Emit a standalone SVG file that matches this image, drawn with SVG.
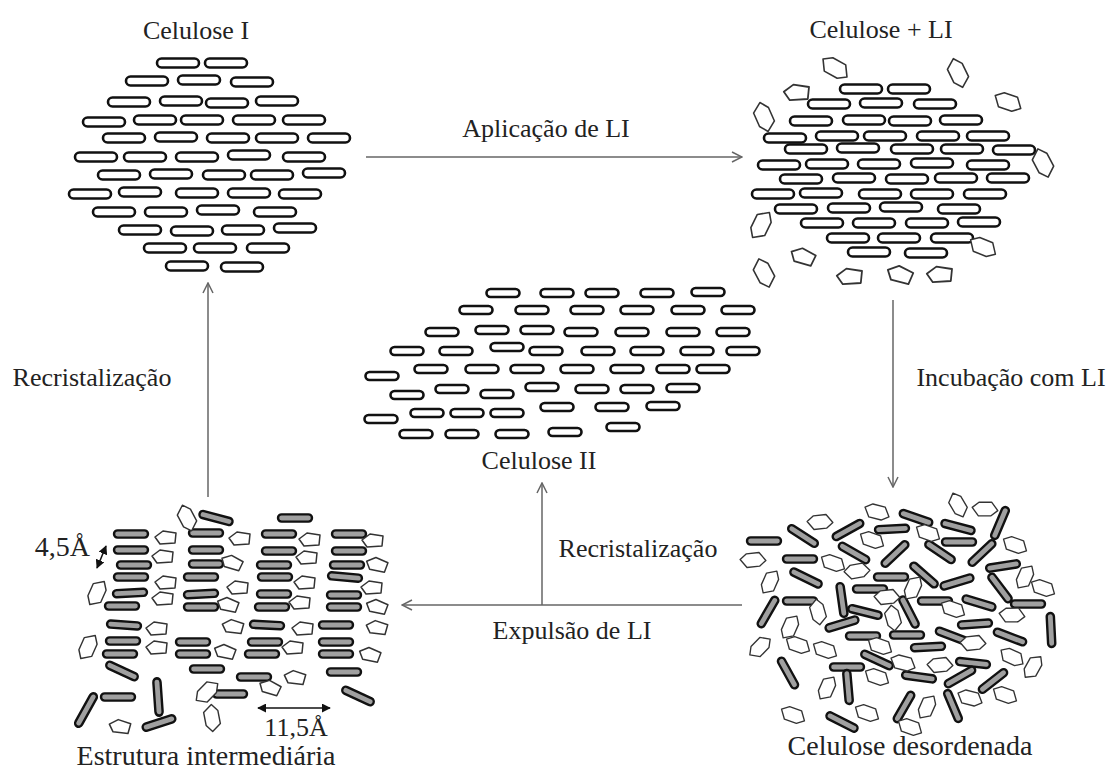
<svg xmlns="http://www.w3.org/2000/svg" width="1109" height="769" viewBox="0 0 1109 769">
<style>
  .r { fill: #fff; stroke: #111; stroke-width: 2.6; }
  .d { fill: #a0a0a0; stroke: #111; stroke-width: 2.4; }
  .p { fill: #fff; stroke: #333; stroke-width: 1.5; stroke-linejoin: round; }
  .lbl { font-family: "Liberation Serif", "Times New Roman", serif; font-size: 26px; fill: #222; text-anchor: middle; }
  .big { font-size: 28px; }
  .arr { stroke: #666; stroke-width: 1.5; fill: none; }
  .dim { stroke: #111; stroke-width: 1.5; fill: none; }
</style>
<defs>
  <!-- cellulose chain rods -->
  <rect id="rA" x="-21" y="-4.5" width="42" height="9" rx="4.5"/>
  <rect id="rB" x="-16.5" y="-4" width="33" height="8" rx="4"/>
  <rect id="rC" x="-17" y="-3.6" width="34" height="7.2" rx="3.6"/>
  <!-- ionic liquid ions -->
  <polygon id="pent" points="-11,-1 -3,-7 10,-5 9,5 -6,6"/>
  <polygon id="hex" points="-14,-3 -6,-8 8,-7 14,3 6,8 -8,7"/>
  <marker id="ah" viewBox="0 0 12 12" refX="11" refY="6" markerWidth="12" markerHeight="12" markerUnits="userSpaceOnUse" orient="auto">
    <path d="M1,1 L11,6 L1,11" fill="none" stroke="#666" stroke-width="1.5"/>
  </marker>
  <marker id="fa" viewBox="0 0 10 10" refX="9" refY="5" markerWidth="9" markerHeight="9" markerUnits="userSpaceOnUse" orient="auto-start-reverse">
    <path d="M0,0 L10,5 L0,10 z" fill="#111"/>
  </marker>
</defs>

<!-- Celulose I: ordered lattice -->
<g id="celulose-i" class="r">
  <use href="#rA" x="178" y="63"/><use href="#rA" x="226" y="63"/>
  <use href="#rA" x="147" y="81"/><use href="#rA" x="199" y="80"/><use href="#rA" x="252" y="82"/>
  <use href="#rA" x="129" y="102"/><use href="#rA" x="181" y="101"/><use href="#rA" x="227" y="103"/><use href="#rA" x="277" y="101"/>
  <use href="#rA" x="104" y="122"/><use href="#rA" x="155" y="120"/><use href="#rA" x="202" y="120"/><use href="#rA" x="254" y="120"/><use href="#rA" x="304" y="120"/>
  <use href="#rA" x="124" y="138"/><use href="#rA" x="176" y="137"/><use href="#rA" x="228" y="138"/><use href="#rA" x="277" y="138"/><use href="#rA" x="329" y="138"/>
  <use href="#rA" x="96" y="157"/><use href="#rA" x="145" y="157"/><use href="#rA" x="197" y="157"/><use href="#rA" x="249" y="155"/><use href="#rA" x="304" y="157"/>
  <use href="#rA" x="119" y="175"/><use href="#rA" x="171" y="174"/><use href="#rA" x="224" y="175"/><use href="#rA" x="272" y="175"/><use href="#rA" x="324" y="173"/>
  <use href="#rA" x="90" y="194"/><use href="#rA" x="140" y="192"/><use href="#rA" x="197" y="193"/><use href="#rA" x="249" y="193"/><use href="#rA" x="300" y="194"/>
  <use href="#rA" x="114" y="212"/><use href="#rA" x="166" y="212"/><use href="#rA" x="218" y="210"/><use href="#rA" x="275" y="212"/>
  <use href="#rA" x="140" y="230"/><use href="#rA" x="192" y="231"/><use href="#rA" x="243" y="230"/><use href="#rA" x="295" y="228"/>
  <use href="#rA" x="165" y="248"/><use href="#rA" x="215" y="248"/><use href="#rA" x="268" y="248"/>
  <use href="#rA" x="187" y="266"/><use href="#rA" x="242" y="267"/>
</g>

<!-- Celulose + LI: lattice with ions around it -->
<g id="celulose-li">
  <g class="r">
    <use href="#rA" x="861" y="89"/><use href="#rA" x="909" y="89"/>
    <use href="#rA" x="829" y="104"/><use href="#rA" x="881" y="103"/><use href="#rA" x="935" y="104"/>
    <use href="#rA" x="811" y="121"/><use href="#rA" x="864" y="120"/><use href="#rA" x="910" y="121"/><use href="#rA" x="961" y="120"/>
    <use href="#rA" x="785" y="138"/><use href="#rA" x="837" y="136"/><use href="#rA" x="885" y="136"/><use href="#rA" x="938" y="136"/><use href="#rA" x="988" y="136"/>
    <use href="#rA" x="806" y="149"/><use href="#rA" x="858" y="148"/><use href="#rA" x="912" y="149"/><use href="#rA" x="962" y="149"/><use href="#rA" x="1014" y="150"/>
    <use href="#rA" x="779" y="165"/><use href="#rA" x="827" y="164"/><use href="#rA" x="879" y="164"/><use href="#rA" x="932" y="163"/><use href="#rA" x="988" y="165"/>
    <use href="#rA" x="801" y="179"/><use href="#rA" x="854" y="178"/><use href="#rA" x="907" y="179"/><use href="#rA" x="956" y="178"/><use href="#rA" x="1008" y="178"/>
    <use href="#rA" x="773" y="194"/><use href="#rA" x="821" y="193"/><use href="#rA" x="880" y="194"/><use href="#rA" x="932" y="194"/><use href="#rA" x="985" y="194"/>
    <use href="#rA" x="796" y="209"/><use href="#rA" x="849" y="208"/><use href="#rA" x="901" y="207"/><use href="#rA" x="959" y="209"/>
    <use href="#rA" x="822" y="223"/><use href="#rA" x="874" y="223"/><use href="#rA" x="927" y="223"/><use href="#rA" x="979" y="222"/>
    <use href="#rA" x="848" y="238"/><use href="#rA" x="899" y="238"/><use href="#rA" x="952" y="238"/>
    <use href="#rA" x="869" y="252"/><use href="#rA" x="926" y="253"/>
  </g>
  <g class="p">
    <use href="#hex" transform="translate(835,68) rotate(25) scale(1.05)"/>
    <use href="#hex" transform="translate(958,73) rotate(60) scale(1.05)"/>
    <use href="#pent" transform="translate(797,93) scale(1.2)"/>
    <use href="#hex" transform="translate(1008,102) rotate(15)"/>
    <use href="#hex" transform="translate(764,117) rotate(62) scale(1.05)"/>
    <use href="#hex" transform="translate(1043,163) rotate(58) scale(1.05)"/>
    <use href="#hex" transform="translate(761,225) rotate(-68) scale(1.05)"/>
    <use href="#pent" transform="translate(803,257) rotate(20) scale(1.15)"/>
    <use href="#hex" transform="translate(983,247) rotate(18)"/>
    <use href="#hex" transform="translate(764,273) rotate(58) scale(1.05)"/>
    <use href="#pent" transform="translate(850,277) scale(1.2)"/>
    <use href="#pent" transform="translate(900,275) rotate(18) scale(1.2)"/>
    <use href="#pent" transform="translate(940,275) scale(1.2)"/>
  </g>
</g>

<!-- Celulose II: regenerated sheared lattice -->
<g id="celulose-ii" class="r">
  <use href="#rB" x="503" y="293"/><use href="#rB" x="557" y="293"/><use href="#rB" x="602" y="293"/><use href="#rB" x="657" y="293"/><use href="#rB" x="708" y="292"/>
  <use href="#rB" x="476" y="310"/><use href="#rB" x="532" y="310"/><use href="#rB" x="587" y="310"/><use href="#rB" x="637" y="310"/><use href="#rB" x="688" y="310"/><use href="#rB" x="738" y="310"/>
  <use href="#rB" x="442" y="332"/><use href="#rB" x="492" y="330"/><use href="#rB" x="537" y="330"/><use href="#rB" x="581" y="332"/><use href="#rB" x="632" y="332"/><use href="#rB" x="683" y="332"/><use href="#rB" x="733" y="332"/>
  <use href="#rB" x="407" y="351"/><use href="#rB" x="456" y="351"/><use href="#rB" x="507" y="347"/><use href="#rB" x="546" y="351"/><use href="#rB" x="598" y="351"/><use href="#rB" x="647" y="351"/><use href="#rB" x="697" y="351"/><use href="#rB" x="743" y="351"/>
  <use href="#rB" x="382" y="376"/><use href="#rB" x="431" y="369"/><use href="#rB" x="482" y="369"/><use href="#rB" x="527" y="369"/><use href="#rB" x="577" y="369"/><use href="#rB" x="627" y="369"/><use href="#rB" x="673" y="369"/><use href="#rB" x="713" y="369"/>
  <use href="#rB" x="407" y="395"/><use href="#rB" x="452" y="389"/><use href="#rB" x="497" y="394"/><use href="#rB" x="542" y="387"/><use href="#rB" x="592" y="389"/><use href="#rB" x="637" y="389"/><use href="#rB" x="683" y="388"/>
  <use href="#rB" x="381" y="419"/><use href="#rB" x="427" y="413"/><use href="#rB" x="467" y="413"/><use href="#rB" x="507" y="413"/><use href="#rB" x="557" y="407"/><use href="#rB" x="612" y="407"/><use href="#rB" x="663" y="406"/>
  <use href="#rB" x="416" y="434"/><use href="#rB" x="462" y="434"/><use href="#rB" x="512" y="434"/><use href="#rB" x="565" y="432"/><use href="#rB" x="623" y="427"/>
</g>

<!-- Estrutura intermediaria: sheets with ions between them -->
<g id="estrutura">
  <g class="d">
    <use href="#rC" transform="translate(131,534)"/><use href="#rC" transform="translate(131,550)"/><use href="#rC" transform="translate(134,565)"/><use href="#rC" transform="translate(131,577)"/>
    <use href="#rC" transform="translate(130,593) rotate(-3)"/><use href="#rC" transform="translate(122,606)"/><use href="#rC" transform="translate(124,625) rotate(4)"/><use href="#rC" transform="translate(123,641)"/>
    <use href="#rC" transform="translate(120,654)"/><use href="#rC" transform="translate(122,671) rotate(25)"/><use href="#rC" transform="translate(118,697)"/>
    <use href="#rC" transform="translate(86,710) rotate(-61) scale(1.1,1)"/><use href="#rC" transform="translate(158,697) rotate(86) scale(1.1,1)"/>
    <use href="#rC" transform="translate(159,723) rotate(-18)"/><use href="#rC" transform="translate(216,518) rotate(15)"/><use href="#rC" transform="translate(295,518)"/>
    <use href="#rC" transform="translate(206,533)"/><use href="#rC" transform="translate(206,550)"/><use href="#rC" transform="translate(206,564)"/><use href="#rC" transform="translate(201,577)"/>
    <use href="#rC" transform="translate(201,594) rotate(-3)"/><use href="#rC" transform="translate(201,607)"/><use href="#rC" transform="translate(193,642)"/><use href="#rC" transform="translate(193,654)"/>
    <use href="#rC" transform="translate(207,669)"/><use href="#rC" transform="translate(230,694)"/>
    <use href="#rC" transform="translate(279,534)"/><use href="#rC" transform="translate(279,551)"/><use href="#rC" transform="translate(274,565)"/><use href="#rC" transform="translate(275,577)"/>
    <use href="#rC" transform="translate(274,594)"/><use href="#rC" transform="translate(272,607)"/><use href="#rC" transform="translate(267,625) rotate(3)"/><use href="#rC" transform="translate(265,642)"/>
    <use href="#rC" transform="translate(262,654)"/><use href="#rC" transform="translate(254,677)"/>
    <use href="#rC" transform="translate(349,534)"/><use href="#rC" transform="translate(349,551)"/><use href="#rC" transform="translate(347,565)"/><use href="#rC" transform="translate(345,577) rotate(5)"/>
    <use href="#rC" transform="translate(344,595)"/><use href="#rC" transform="translate(344,607)"/><use href="#rC" transform="translate(336,625)"/><use href="#rC" transform="translate(336,642)"/>
    <use href="#rC" transform="translate(336,654)"/><use href="#rC" transform="translate(344,672)"/><use href="#rC" transform="translate(358,696) rotate(25)"/>
  </g>
  <g class="p">
    <use href="#pent" transform="translate(166,538)"/><use href="#pent" transform="translate(163,557)"/><use href="#pent" transform="translate(166,583)"/>
    <use href="#pent" transform="translate(163,599)"/><use href="#pent" transform="translate(157,629)"/><use href="#pent" transform="translate(157,648)"/>
    <use href="#pent" transform="translate(240,539)"/><use href="#pent" transform="translate(232,563) rotate(20)"/><use href="#pent" transform="translate(238,588)"/>
    <use href="#pent" transform="translate(228,605) rotate(15)"/><use href="#pent" transform="translate(233,627) rotate(10)"/><use href="#pent" transform="translate(225,652) rotate(15)"/>
    <use href="#pent" transform="translate(310,540)"/><use href="#pent" transform="translate(307,558)"/><use href="#pent" transform="translate(305,583)"/>
    <use href="#pent" transform="translate(300,603)"/><use href="#pent" transform="translate(303,629)"/><use href="#pent" transform="translate(293,648)"/>
    <use href="#pent" transform="translate(295,678) rotate(10)"/><use href="#pent" transform="translate(270,688) rotate(20)"/>
    <use href="#pent" transform="translate(373,541)"/><use href="#pent" transform="translate(377,565) rotate(15)"/><use href="#pent" transform="translate(372,588)"/>
    <use href="#pent" transform="translate(377,607) rotate(15)"/><use href="#pent" transform="translate(377,628) rotate(10)"/><use href="#pent" transform="translate(370,655) rotate(15)"/>
    <use href="#hex" transform="translate(187,518) rotate(58) scale(0.95)"/>
    <use href="#hex" transform="translate(97,593) rotate(-70) scale(0.95)"/>
    <use href="#hex" transform="translate(88,647) rotate(-70) scale(0.95)"/>
    <use href="#pent" transform="translate(120,727) rotate(10)"/>
    <use href="#hex" transform="translate(207,692) rotate(-50) scale(0.95)"/>
    <use href="#hex" transform="translate(212,718) rotate(75) scale(0.95)"/>
  </g>
  <!-- spacing marks -->
  <line class="dim" x1="106" y1="546" x2="97" y2="568" marker-start="url(#fa)" marker-end="url(#fa)"/>
  <line class="dim" x1="258" y1="708" x2="330" y2="708" marker-start="url(#fa)" marker-end="url(#fa)"/>
</g>

<!-- Celulose desordenada: random rods and ions -->
<g id="desordenada">
  <g class="d">
    <use href="#rC" transform="translate(764,541)"/>
    <use href="#rC" transform="translate(803,536) rotate(33)"/>
    <use href="#rC" transform="translate(848,530) rotate(-29)"/>
    <use href="#rC" transform="translate(892,529) rotate(-3)"/>
    <use href="#rC" transform="translate(916,518) rotate(19)"/>
    <use href="#rC" transform="translate(958,527) rotate(15)"/>
    <use href="#rC" transform="translate(1000,523) rotate(-67)"/>
    <use href="#rC" transform="translate(959,542)"/>
    <use href="#rC" transform="translate(982,553) rotate(-43)"/>
    <use href="#rC" transform="translate(854,553) rotate(30)"/>
    <use href="#rC" transform="translate(800,559)"/>
    <use href="#rC" transform="translate(895,554) rotate(-43)"/>
    <use href="#rC" transform="translate(940,552) rotate(34)"/>
    <use href="#rC" transform="translate(806,578) rotate(26)"/>
    <use href="#rC" transform="translate(891,577)"/>
    <use href="#rC" transform="translate(924,575) rotate(41)"/>
    <use href="#rC" transform="translate(957,582) rotate(-17)"/>
    <use href="#rC" transform="translate(1003,566) rotate(-9)"/>
    <use href="#rC" transform="translate(1000,588) rotate(53)"/>
    <use href="#rC" transform="translate(842,600) rotate(82)"/>
    <use href="#rC" transform="translate(870,589)"/>
    <use href="#rC" transform="translate(768,612) rotate(-60)"/>
    <use href="#rC" transform="translate(800,601)"/>
    <use href="#rC" transform="translate(909,612) rotate(63)"/>
    <use href="#rC" transform="translate(935,601)"/>
    <use href="#rC" transform="translate(979,603) rotate(17)"/>
    <use href="#rC" transform="translate(1028,604)"/>
    <use href="#rC" transform="translate(865,612) rotate(14)"/>
    <use href="#rC" transform="translate(842,624) rotate(-17)"/>
    <use href="#rC" transform="translate(975,624) rotate(-4)"/>
    <use href="#rC" transform="translate(1051,630) rotate(87)"/>
    <use href="#rC" transform="translate(863,636)"/>
    <use href="#rC" transform="translate(907,635)"/>
    <use href="#rC" transform="translate(952,636) rotate(21)"/>
    <use href="#rC" transform="translate(1010,637) rotate(21)"/>
    <use href="#rC" transform="translate(928,647) rotate(-3)"/>
    <use href="#rC" transform="translate(877,660) rotate(25)"/>
    <use href="#rC" transform="translate(788,673) rotate(61)"/>
    <use href="#rC" transform="translate(847,667)"/>
    <use href="#rC" transform="translate(848,687) rotate(85)"/>
    <use href="#rC" transform="translate(973,663) rotate(6)"/>
    <use href="#rC" transform="translate(919,677) rotate(8)"/>
    <use href="#rC" transform="translate(960,677) rotate(-30)"/>
    <use href="#rC" transform="translate(993,681) rotate(-38)"/>
    <use href="#rC" transform="translate(953,706) rotate(67)"/>
    <use href="#rC" transform="translate(904,707) rotate(-60)"/>
    <use href="#rC" transform="translate(842,722) rotate(27)"/>
  </g>
  <g class="p">
    <use href="#hex" transform="translate(958,505) rotate(55) scale(0.9)"/>
    <use href="#hex" transform="translate(985,509) rotate(-5) scale(0.9)"/>
    <use href="#hex" transform="translate(877,512) rotate(10) scale(0.9)"/>
    <use href="#hex" transform="translate(820,522) rotate(-10) scale(0.9)"/>
    <use href="#hex" transform="translate(928,533) rotate(15) scale(0.9)"/>
    <use href="#hex" transform="translate(872,540) rotate(15) scale(0.9)"/>
    <use href="#hex" transform="translate(1015,545) rotate(15) scale(0.9)"/>
    <use href="#hex" transform="translate(753,560) rotate(-10) scale(0.9)"/>
    <use href="#hex" transform="translate(833,563) rotate(15) scale(0.9)"/>
    <use href="#hex" transform="translate(857,571) rotate(-15) scale(0.9)"/>
    <use href="#hex" transform="translate(770,582) rotate(-70) scale(0.9)"/>
    <use href="#hex" transform="translate(913,588) rotate(-70) scale(0.9)"/>
    <use href="#hex" transform="translate(1025,577) rotate(-70) scale(0.9)"/>
    <use href="#hex" transform="translate(1043,588) rotate(15) scale(0.9)"/>
    <use href="#hex" transform="translate(887,597) rotate(-10) scale(0.9)"/>
    <use href="#hex" transform="translate(818,612) rotate(70) scale(0.9)"/>
    <use href="#hex" transform="translate(953,609) rotate(15) scale(0.9)"/>
    <use href="#hex" transform="translate(1012,615) rotate(-5) scale(0.9)"/>
    <use href="#hex" transform="translate(893,618) rotate(70) scale(0.9)"/>
    <use href="#hex" transform="translate(790,627) rotate(-70) scale(0.9)"/>
    <use href="#hex" transform="translate(760,647) rotate(-50) scale(0.9)"/>
    <use href="#hex" transform="translate(798,645) rotate(15) scale(0.9)"/>
    <use href="#hex" transform="translate(825,650) rotate(15) scale(0.9)"/>
    <use href="#hex" transform="translate(880,646) rotate(15) scale(0.9)"/>
    <use href="#hex" transform="translate(973,643) rotate(-10) scale(0.9)"/>
    <use href="#hex" transform="translate(1012,657) rotate(20) scale(0.9)"/>
    <use href="#hex" transform="translate(1033,667) rotate(-65) scale(0.9)"/>
    <use href="#hex" transform="translate(903,663) rotate(10) scale(0.9)"/>
    <use href="#hex" transform="translate(940,665) rotate(-10) scale(0.9)"/>
    <use href="#hex" transform="translate(877,677) rotate(15) scale(0.9)"/>
    <use href="#hex" transform="translate(827,688) rotate(-70) scale(0.9)"/>
    <use href="#hex" transform="translate(970,698) rotate(10) scale(0.9)"/>
    <use href="#hex" transform="translate(1005,695) rotate(15) scale(0.9)"/>
    <use href="#hex" transform="translate(927,707) rotate(-70) scale(0.9)"/>
    <use href="#hex" transform="translate(793,715) rotate(15) scale(0.9)"/>
    <use href="#hex" transform="translate(867,713) rotate(15) scale(0.9)"/>
    <use href="#hex" transform="translate(910,727) rotate(15) scale(0.9)"/>
  </g>
</g>

<!-- process arrows -->
<g id="connectors" class="arr">
  <line x1="366" y1="157" x2="742" y2="157" marker-end="url(#ah)"/>
  <line x1="893" y1="300" x2="893" y2="487" marker-end="url(#ah)"/>
  <line x1="742" y1="605" x2="402" y2="605" marker-end="url(#ah)"/>
  <line x1="542" y1="605" x2="542" y2="483" marker-end="url(#ah)"/>
  <line x1="208" y1="497" x2="208" y2="283" marker-end="url(#ah)"/>
</g>

<!-- labels -->
<g id="labels" class="lbl">
  <text x="196" y="39">Celulose I</text>
  <text x="881" y="38">Celulose + LI</text>
  <text x="546" y="137">Aplicação de LI</text>
  <text x="92" y="386">Recristalização</text>
  <text x="1011" y="386">Incubação com LI</text>
  <text x="539" y="469">Celulose II</text>
  <text x="638" y="557">Recristalização</text>
  <text x="572" y="639">Expulsão de LI</text>
  <text class="big" x="206" y="765">Estrutura intermediária</text>
  <text class="big" x="910" y="755">Celulose desordenada</text>
  <text class="big" x="90" y="556" style="text-anchor:end">4,5Å</text>
  <text x="296" y="736">11,5Å</text>
</g>
</svg>
